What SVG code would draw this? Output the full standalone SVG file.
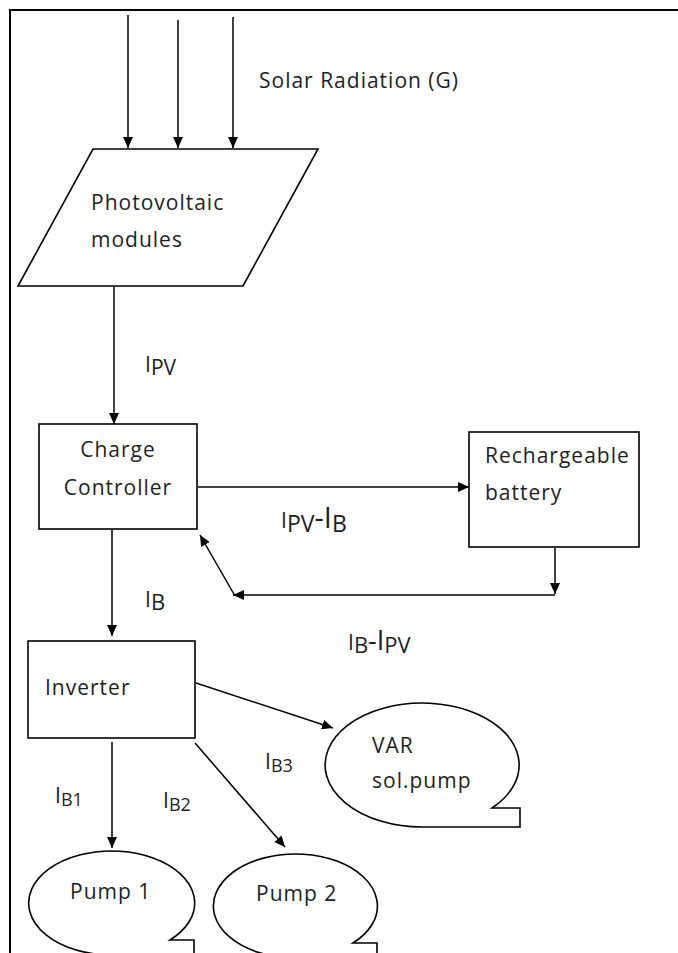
<svg xmlns="http://www.w3.org/2000/svg" width="678" height="953" viewBox="0 0 678 953">
<style>
.shape{fill:#fff;stroke:#000;stroke-width:1.6}
.conn line{stroke:#000;stroke-width:1.5;marker-end:url(#ah)}
text{font-family:"Open Sans","Noto Sans","Liberation Sans",sans-serif;fill:#1e1e1e;font-size:21px;letter-spacing:1px}
.mid{text-anchor:middle}
.lbl{letter-spacing:0}
</style>
<defs>
<marker id="ah" markerUnits="userSpaceOnUse" markerWidth="12" markerHeight="10" refX="11" refY="5" orient="auto">
<path d="M0,0 L11,5 L0,10 Z" fill="#000"/>
</marker>
</defs>
<rect width="678" height="953" fill="#fff"/>
<path d="M10,953 L10,10 L678,10" fill="none" stroke="#000" stroke-width="2"/>

<g id="connectors" class="conn">
<line x1="128" y1="15" x2="128" y2="148"/>
<line x1="178" y1="20" x2="178" y2="148"/>
<line x1="233" y1="17" x2="233" y2="148"/>
<line x1="114" y1="287" x2="114" y2="424"/>
<line x1="198" y1="487" x2="469" y2="487"/>
<line x1="555" y1="548" x2="555" y2="594"/>
<line x1="555" y1="595" x2="233" y2="595"/>
<line x1="235" y1="596" x2="200" y2="535"/>
<line x1="112" y1="530" x2="112" y2="636"/>
<line x1="196" y1="683" x2="333" y2="728"/>
<line x1="112" y1="742" x2="112" y2="848"/>
<line x1="195" y1="743" x2="285" y2="847"/>
</g>

<g id="solar-label">
<text x="259" y="88" font-size="22">Solar Radiation (G)</text>
</g>

<g id="pv-modules">
<polygon class="shape" points="93,149 318,149 243,286 18,286"/>
<text x="91" y="210">Photovoltaic</text>
<text x="91" y="247">modules</text>
</g>

<g id="charge-controller">
<rect class="shape" x="39" y="424" width="158" height="105"/>
<text class="mid" x="118" y="457">Charge</text>
<text class="mid" x="118" y="495">Controller</text>
</g>

<g id="battery">
<rect class="shape" x="469" y="432" width="170" height="115"/>
<text x="485" y="463" letter-spacing="0.3">Rechargeable</text>
<text x="485" y="500" letter-spacing="0.3">battery</text>
</g>

<g id="inverter">
<rect class="shape" x="28" y="641" width="167" height="97"/>
<text x="45" y="695">Inverter</text>
</g>

<g id="var-pump">
<path class="shape" d="M492,808 L520,808 L520,827 L422,827 A97,62 0 1 1 492,808 Z"/>
<text x="372" y="753">VAR</text>
<text x="372" y="788">sol.pump</text>
</g>

<g id="pump1">
<path class="shape" d="M170,940 L194,940 L194,955 L111,955 A83,52 0 1 1 170,940 Z"/>
<text x="70" y="899">Pump 1</text>
</g>

<g id="pump2">
<path class="shape" d="M353,943 L377,943 L377,958 L295,958 A82,52 0 1 1 353,943 Z"/>
<text x="256" y="901">Pump 2</text>
</g>

<g id="labels">
<text class="lbl" x="145" y="372" font-size="25">I<tspan font-size="21" dy="3">PV</tspan></text>
<text class="lbl" x="281" y="528" font-size="29">I<tspan font-size="23" dy="4">PV</tspan><tspan font-size="29" dy="-4">-I</tspan><tspan font-size="23" dy="4">B</tspan></text>
<text class="lbl" x="145" y="607" font-size="27">I<tspan font-size="22" dy="3">B</tspan></text>
<text class="lbl" x="348" y="650" font-size="27">I<tspan font-size="22" dy="3">B</tspan><tspan font-size="27" dy="-3">-I</tspan><tspan font-size="22" dy="3">PV</tspan></text>
<text class="lbl" x="55" y="803" font-size="25">I<tspan font-size="18" dy="3">B1</tspan></text>
<text class="lbl" x="163" y="808" font-size="25">I<tspan font-size="18" dy="3">B2</tspan></text>
<text class="lbl" x="265" y="769" font-size="25">I<tspan font-size="18" dy="3">B3</tspan></text>
</g>
</svg>
